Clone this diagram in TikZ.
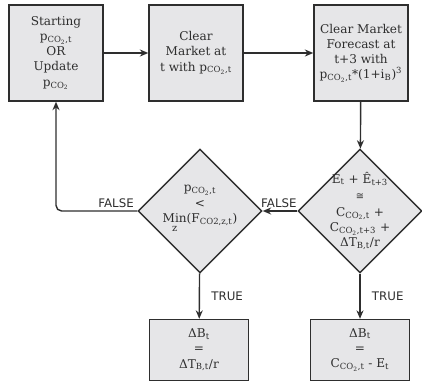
\documentclass[tikz,border=0pt]{standalone}
\usepackage{amsmath}
\usepackage{fontspec}
\setmainfont{DejaVu Serif}
\newfontfamily\lblfont{DejaVu Sans}
\usetikzlibrary{shapes.geometric, arrows.meta, positioning, calc}
\definecolor{boxfill}{HTML}{E6E6E8}
\definecolor{linegray}{HTML}{2E2E2E}
\newcommand{\pco}{p\textsubscript{CO\textsubscript{2},t}}
\newcommand{\cco}[1]{C\textsubscript{CO\textsubscript{2},#1}}

\begin{document}
\begin{tikzpicture}[x=0.025cm, y=-0.025cm, line width=1pt, draw=linegray, text=linegray,
    >={Stealth[length=6pt,width=5pt]},
    every node/.style={font=\fontsize{8.6}{10.8}\selectfont, align=center},
    box/.style={draw=linegray, fill=boxfill, minimum width=2.35cm, minimum height=2.4cm, inner sep=1pt},
    resbox/.style={draw=linegray, fill=boxfill, minimum width=2.475cm, minimum height=1.525cm, inner sep=1pt},
    decision/.style={draw=linegray, fill=boxfill, diamond, aspect=1, minimum width=3.1cm, minimum height=3.1cm, inner sep=-12pt},
    lbl/.style={font=\lblfont\fontsize{8.4}{10}\selectfont, inner sep=2pt}]
      \useasboundingbox (0,0) rectangle (422,388);
      % top row
      \node[box] (start) at (56,53) {Starting\\ \pco\\ OR\\ Update\\ p\textsubscript{CO\textsubscript{2}}};
      \node[box] (clear) at (196,53) {Clear\\ Market at\\ t with \pco};
      \node[box] (forecast) at (361,53) {Clear Market\\ Forecast at\\ t+3 with\\ \pco*(1+i\textsubscript{B})\textsuperscript{3}};
      % decisions
      \node[decision] (balance) at (360,211) {E\textsubscript{t} + Ê\textsubscript{t+3}\\[1pt] {\lblfont\fontsize{7}{8}\selectfont ≅}\\[1pt] \cco{t} +\\ \cco{t+3} +\\ ΔT\textsubscript{B,t}/r};
      \node[decision] (price) at (200,211) {\pco\\ <\\ \begin{tabular}[t]{@{}c@{}}Min\\[-4pt]\scriptsize z\end{tabular}(F\textsubscript{CO2,z,t})};
      % results
      \node[resbox] (bankA) at (199,350) {ΔB\textsubscript{t}\\ =\\ ΔT\textsubscript{B,t}/r};
      \node[resbox] (bankB) at (360,350) {ΔB\textsubscript{t}\\ =\\ \cco{t} - E\textsubscript{t}};
      % connectors
      \draw[->] (start) -- (clear);
      \draw[->] (clear) -- (forecast);
      \draw[->] (balance.west) node[lbl, anchor=south east, xshift=2pt] {FALSE} -- (price.east);
      \draw[->] (forecast) -- (balance);
      \draw[->, rounded corners=4pt] (price.west) node[lbl, above left] {FALSE} -| (start.south);
      \draw[->] (price) -- node[lbl, right=6pt] {TRUE} (bankA);
      \draw[->] (balance) -- node[lbl, right=6pt] {TRUE} (bankB);
    \end{tikzpicture}
\end{document}
